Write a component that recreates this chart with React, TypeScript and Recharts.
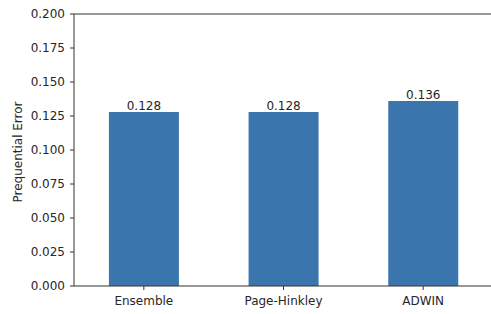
import { BarChart, Bar, XAxis, YAxis, LabelList, ReferenceLine } from 'recharts';

const methods = ['Ensemble', 'Page-Hinkley', 'ADWIN'];
const errors = [0.128, 0.128, 0.136];
const yTicks = [0, 0.025, 0.05, 0.075, 0.1, 0.125, 0.15, 0.175, 0.2];

const data = methods.map((name, i) => ({ name, error: errors[i] }));

const font = '"DejaVu Sans", sans-serif';
const axisColor = '#333';
const textColor = '#262626';

export default function App() {
  return (
    <div style={{ position: 'absolute', left: 0, top: 0, width: 491, height: 314, overflow: 'hidden', background: '#fff' }}>
      <BarChart
        width={493}
        height={314}
        data={data}
        margin={{ top: 14, right: 0, bottom: 0, left: 0 }}
        barCategoryGap="25%"
        style={{ fontFamily: font }}
      >
        <XAxis
          dataKey="name"
          height={28}
          stroke={axisColor}
          tickSize={4}
          tickMargin={6}
          tick={{ fill: textColor, fontSize: 12, fontFamily: font }}
        />
        <YAxis
          width={74}
          domain={[0, 0.2]}
          ticks={yTicks}
          interval={0}
          stroke={axisColor}
          tickSize={4}
          tickMargin={5}
          tickFormatter={(v: number) => v.toFixed(3)}
          tick={{ fill: textColor, fontSize: 12, fontFamily: font }}
          label={{
            content: () => (
              <text
                x={21.5}
                y={152}
                transform="rotate(-90 21.5 152)"
                textAnchor="middle"
                fill={textColor}
                fontSize={12}
                fontFamily={font}
              >
                Prequential Error
              </text>
            ),
          }}
        />
        <ReferenceLine y={0.2} stroke={axisColor} />
        <Bar dataKey="error" fill="#3a75ae" isAnimationActive={false}>
          <LabelList
            dataKey="error"
            position="top"
            offset={2}
            fill={textColor}
            fontSize={12}
            fontFamily={font}
            formatter={(v: number) => v.toFixed(3)}
          />
        </Bar>
      </BarChart>
    </div>
  );
}
